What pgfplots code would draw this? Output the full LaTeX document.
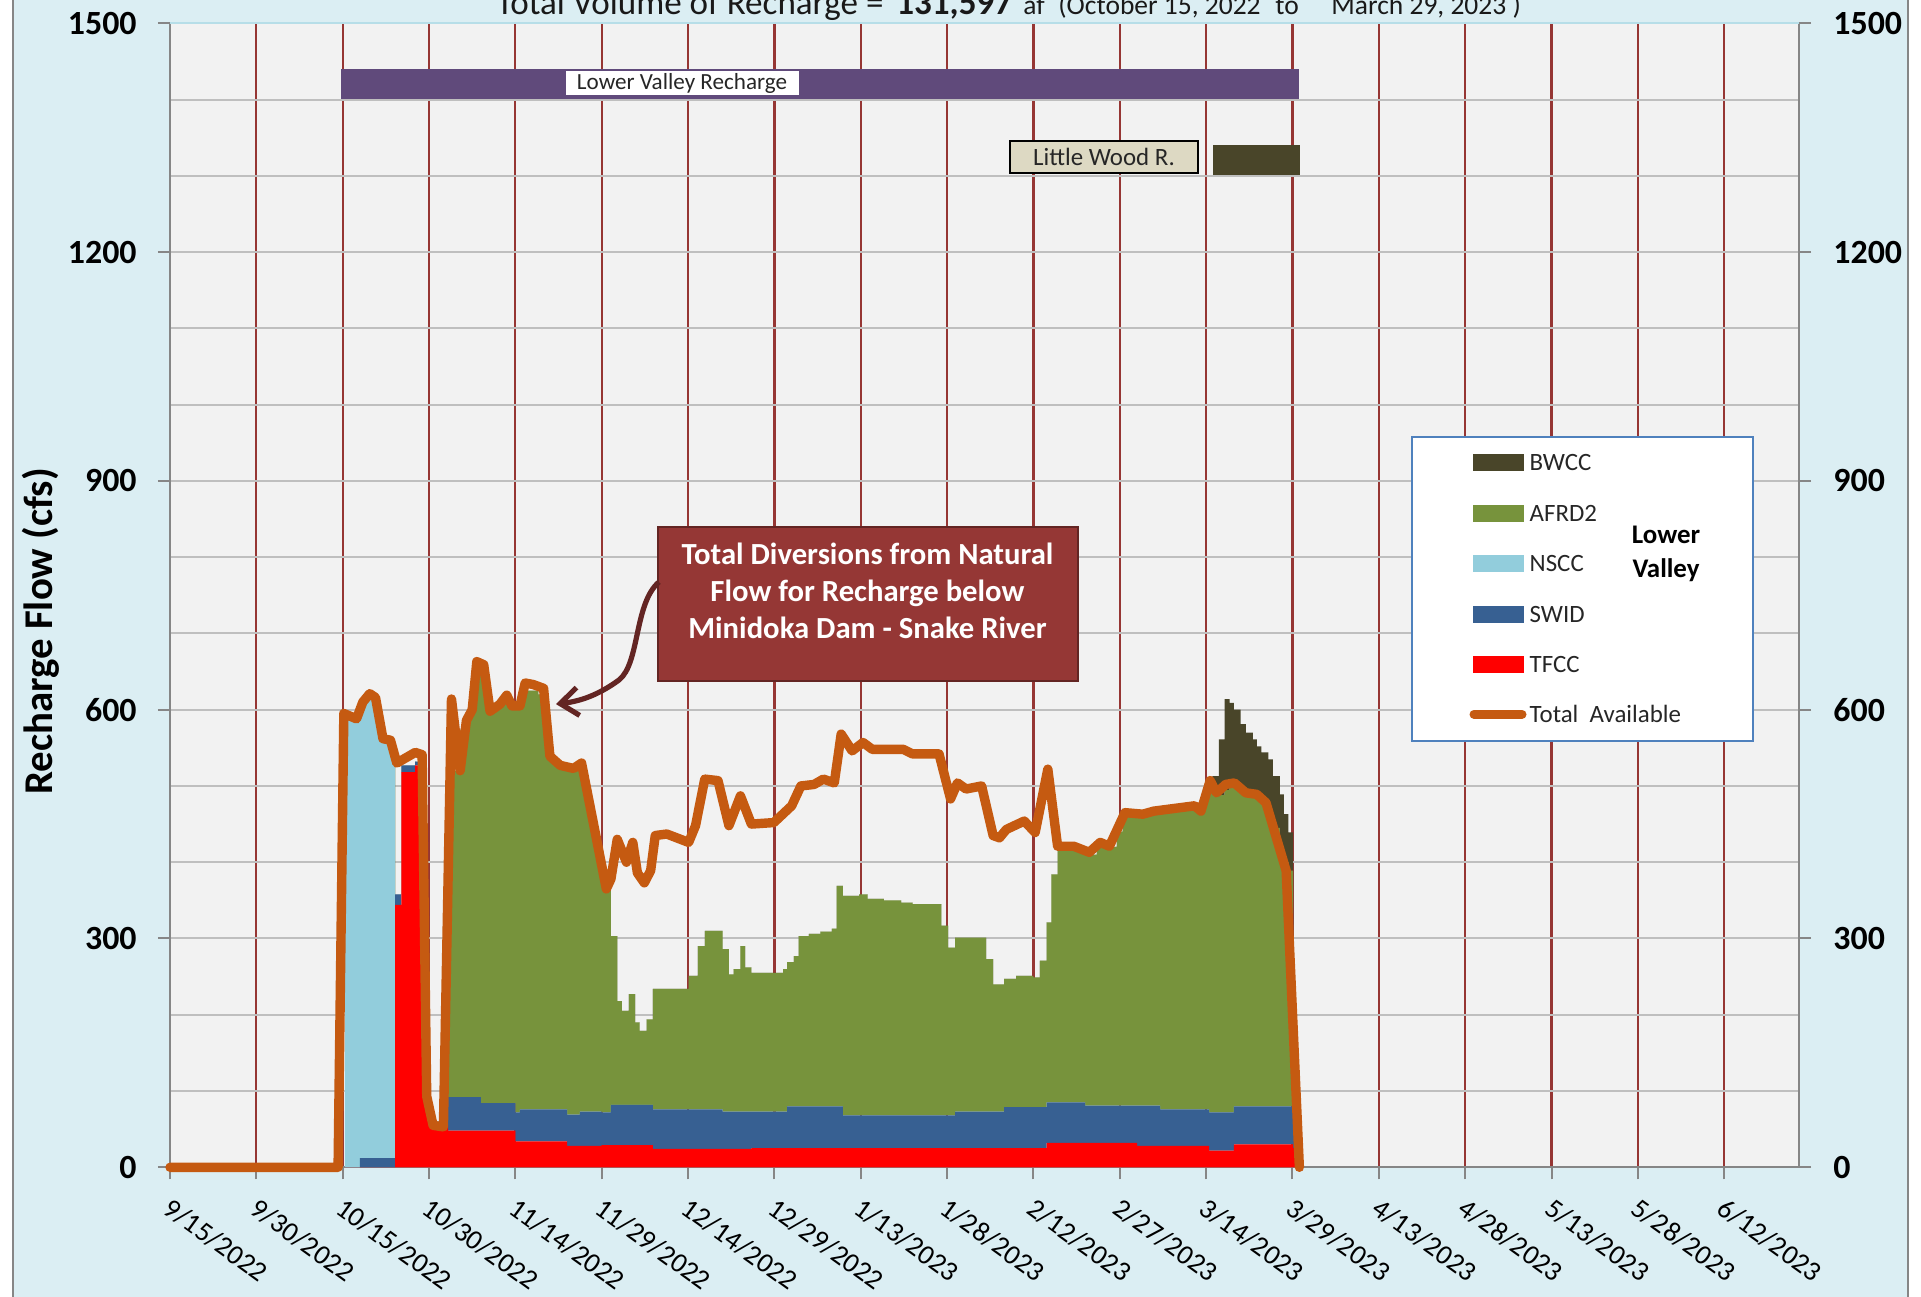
\documentclass[border=0pt]{standalone}
\usepackage{fontspec}
\setmainfont{Carlito}
\usepackage{pgfplots}
\pgfplotsset{compat=1.18}
\usepackage{pgfplotstable}
\usetikzlibrary{arrows.meta}

\definecolor{bgblue}{RGB}{219,238,243}
\definecolor{plotbg}{RGB}{242,242,242}
\definecolor{gridgray}{RGB}{191,191,191}
\definecolor{gridred}{RGB}{150,54,52}
\definecolor{axisgray}{RGB}{134,134,134}
\definecolor{tfcc}{RGB}{255,0,0}
\definecolor{swid}{RGB}{55,96,146}
\definecolor{nscc}{RGB}{146,205,220}
\definecolor{afrd}{RGB}{119,147,60}
\definecolor{bwcc}{RGB}{73,69,41}
\definecolor{total}{RGB}{197,90,17}
\definecolor{lvpurple}{RGB}{96,74,123}
\definecolor{annofill}{RGB}{149,55,53}
\definecolor{annodark}{RGB}{99,37,35}
\definecolor{beige}{RGB}{221,217,195}
\definecolor{legblue}{RGB}{79,129,189}
\definecolor{topblue}{RGB}{183,222,232}

% day = days since 9/15/2022; values in cfs per district
\pgfplotstableread{
d     tfcc swid nscc afrd bwcc
30.4  0    0    595  0    0
31.4  0    0    590  0    0
32.4  0    0    588  0    0
33.0  0    12   593  0    0
34.0  0    12   608  0    0
35.0  0    12   606  0    0
36.0  0    12   573  0    0
37.0  0    12   551  0    0
38.0  0    12   543  0    0
38.6  0    12   523  0    0
39.1  344  14   0    0    0
40.2  518  9    0    0    0
42.6  527  5    0    0    0
43.8  450  0    0    0    0
44.3  150  0    0    0    0
44.8  60   2    0    0    0
45.2  55   5    0    0    0
48.3  48   44   0    428  0
50.5  48   44   0    483  0
51.5  48   44   0    498  0
52.5  48   44   0    548  0
53.5  48   44   0    558  0
54.0  48   36   0    556  0
55.0  48   36   0    516  0
57.0  48   36   0    521  0
58.0  48   36   0    528  0
59.0  48   36   0    519  0
60.0  34   38   0    531  0
60.8  34   42   0    529  0
61.5  34   42   0    549  0
64.0  34   42   0    544  0
65.2  34   42   0    469  0
66.0  34   42   0    454  0
67.5  34   42   0    449  0
69.0  28   41   0    453  0
70.5  28   41   0    456  0
71.2  28   45   0    447  0
72.0  28   45   0    417  0
73.0  28   45   0    377  0
74.0  28   45   0    337  0
75.0  29   43   0    297  0
76.6  29   53   0    221  0
77.7  29   53   0    136  0
78.5  29   53   0    123  0
79.7  29   53   0    145  0
80.8  29   53   0    108  0
81.6  29   53   0    97   0
82.8  29   53   0    112  0
83.9  24   52   0    158  0
90.1  24   52   0    175  0
91.7  24   52   0    214  0
92.9  24   52   0    234  0
96.0  24   49   0    213  0
97.1  24   49   0    180  0
97.9  24   49   0    187  0
99.1  24   49   0    217  0
99.9  24   49   0    189  0
101.0 25   48   0    182  0
106.5 25   48   0    187  0
107.2 25   55   0    189  0
108.4 25   55   0    197  0
109.2 25   55   0    223  0
111.0 25   55   0    226  0
113.0 25   55   0    229  0
115.0 25   55   0    233  0
115.8 25   55   0    289  0
116.9 25   43   0    288  0
119.7 25   43   0    290  0
121.2 25   43   0    284  0
124.0 25   43   0    282  0
127.0 25   43   0    279  0
129.0 25   43   0    277  0
134.0 25   43   0    249  0
135.2 25   43   0    220  0
136.4 25   48   0    228  0
141.8 25   48   0    200  0
143.0 25   48   0    167  0
144.9 25   54   0    168  0
147.0 25   54   0    172  0
150.0 25   54   0    170  0
151.1 25   54   0    192  0
152.3 32   53   0    236  0
153.1 32   53   0    299  0
154.2 32   53   0    330  0
156.0 32   53   0    333  0
158.0 32   53   0    327  0
159.0 32   49   0    329  0
161.0 32   49   0    339  0
164.5 32   49   0    359  0
165.5 32   49   0    379  0
168.0 28   53   0    379  0
170.0 28   53   0    382  0
172.0 28   48   0    389  0
175.0 28   48   0    391  0
178.0 28   48   0    394  0
179.5 28   48   0    409  0
180.5 22   50   0    423  0
181.1 22   50   0    418  23
182.2 22   50   0    416  73
183.2 22   50   0    423  119
184.1 22   50   0    426  111
184.8 30   50   0    420  100
186.0 30   50   0    416  85
186.9 30   50   0    410  80
188.1 30   50   0    408  73
188.8 30   50   0    405  67
189.6 30   50   0    400  64
190.8 30   50   0    385  70
191.6 30   50   0    365  68
192.8 30   50   0    340  69
193.5 30   50   0    320  63
194.3 30   50   0    309  50
195.1 25   45   0    0    0
195.6 0    0    0    0    0
196.0 0    0    0    0    0
}\recharge

\begin{document}
\begin{tikzpicture}
\fill[white] (-85bp,-64.85bp) rectangle (875.5bp,583.65bp);
\fill[bgblue] (-78.5bp,-64.85bp) rectangle (869bp,583.65bp);
\draw[axisgray, line width=1.2bp] (-78.5bp,-64.85bp) -- (-78.5bp,583.65bp);
\draw[axisgray, line width=1.2bp] (869bp,-64.85bp) -- (869bp,583.65bp);

\begin{axis}[
  at={(0,0)}, anchor=south west,
  scale only axis, width=814.5bp, height=572bp,
  xmin=0, xmax=283, ymin=0, ymax=1500,
  axis background/.style={fill=plotbg},
  axis x line*=bottom, axis y line*=left,
  axis line style={axisgray, line width=1.1bp, -},
  xtick={0,15,...,270},
  xticklabels={9/15/2022,9/30/2022,10/15/2022,10/30/2022,11/14/2022,11/29/2022,12/14/2022,12/29/2022,1/13/2023,1/28/2023,2/12/2023,2/27/2023,3/14/2023,3/29/2023,4/13/2023,4/28/2023,5/13/2023,5/28/2023,6/12/2023},
  ytick={0,300,...,1500}, yticklabels={0,300,600,900,1200,1500},
  minor ytick={100,200,400,500,700,800,1000,1100,1300,1400},
  xmajorgrids, ymajorgrids, yminorgrids,
  x grid style={gridred, line width=1.1bp},
  y grid style={gridgray, line width=1bp},
  tick align=outside, major tick length=6bp, minor tick length=0pt,
  tick style={axisgray, line width=1bp},
  yticklabel style={font=\fontsize{17}{20}\selectfont\bfseries, anchor=east, inner sep=0pt, xshift=-10.5bp},
  xticklabel style={yshift=-8.3bp, xshift=1.5bp, font=\fontsize{14}{16}\selectfont, rotate=-36, anchor=north west, inner sep=0pt},
  stack plots=y,
  clip=false,
]
\addplot[const plot mark left, fill=tfcc, draw=none] table[x=d,y=tfcc]{\recharge} \closedcycle;
\addplot[const plot mark left, fill=swid, draw=none] table[x=d,y=swid]{\recharge} \closedcycle;
\addplot[const plot mark left, fill=nscc, draw=none] table[x=d,y=nscc]{\recharge} \closedcycle;
\addplot[const plot mark left, fill=afrd, draw=none] table[x=d,y=afrd]{\recharge} \closedcycle;
\addplot[const plot mark left, fill=bwcc, draw=none] table[x=d,y=bwcc]{\recharge} \closedcycle;
\end{axis}

\begin{axis}[
  at={(0,0)}, anchor=south west,
  scale only axis, width=814.5bp, height=572bp,
  xmin=0, xmax=283, ymin=0, ymax=1500,
  axis x line=none, axis y line*=right,
  axis line style={axisgray, line width=1.1bp, -},
  ytick={0,300,...,1500}, yticklabels={0,300,600,900,1200,1500},
  tick align=outside, major tick length=6bp,
  tick style={axisgray, line width=1bp},
  yticklabel style={font=\fontsize{17}{20}\selectfont\bfseries, anchor=west, inner sep=0pt, xshift=11bp},
  clip=false,
]
\addplot[total, line width=4.7bp, line join=round, line cap=round] coordinates {
(0,0) (29.2,0) (30.2,595) (32.4,588) (33.5,610) (34.7,621) (35.7,616) (37,562) (38.3,560)
(39.4,530) (41,537) (42.6,544) (43.8,541) (44.6,93) (45.7,55) (47.5,53) (48.9,614) (50.4,520)
(51.5,586) (52.5,600) (53.3,663) (54.5,659) (55.6,598) (57.3,607) (58.5,619) (59.4,605)
(60.8,605) (61.7,635) (63.1,633) (64.9,628) (66,539) (67.8,527) (70.1,523) (71.5,530)
(75.8,365) (76.6,378) (77.7,430) (79.3,400) (80.4,426) (81.2,386) (82.4,373) (83.5,389)
(84.3,435) (86.3,437) (90.1,426) (91.3,448) (92.9,509) (95.2,507) (97.1,448) (99.1,487)
(101,450) (104.9,452) (108,474) (109.6,500) (111.9,502) (113.5,509) (115.4,504) (116.6,568)
(118.5,546) (120.4,557) (122,548) (127.4,548) (129,542) (133.6,542) (135.6,483) (136.8,504)
(138.3,496) (141,500) (143,435) (144.1,432) (145.3,443) (148.4,454) (150.3,439) (152.5,522)
(154.2,421) (157,421) (159.7,413) (161.6,426) (163.2,421) (165.9,465) (169,463) (170.9,467)
(178,474) (179.1,467) (180.7,507) (181.8,491) (183.4,502) (184.9,504) (186.9,491) (188.8,489)
(190.4,478) (193.9,389) (196.2,0)
};
\end{axis}

% top edge of plot area
\draw[topblue, line width=1.2bp] (0,572bp) -- (814.5bp,572bp);

% title (cut by the top of the picture)
\node[anchor=base west, inner sep=0pt, font=\fontsize{17.6}{20}\selectfont, text=black!90] at (163bp,576.2bp) {Total Volume of Recharge =};
\node[anchor=base west, inner sep=0pt, font=\fontsize{17.6}{20}\selectfont\bfseries, text=black!90] at (363bp,576.2bp) {131,597};
\node[anchor=base west, inner sep=0pt, font=\fontsize{13.8}{16}\selectfont, text=black!90] at (426.5bp,576.2bp) {af};
\node[anchor=base west, inner sep=0pt, font=\fontsize{13.8}{16}\selectfont, text=black!90] at (444bp,576.2bp) {(October 15, 2022};
\node[anchor=base west, inner sep=0pt, font=\fontsize{13.8}{16}\selectfont, text=black!90] at (552.5bp,576.2bp) {to};
\node[anchor=base west, inner sep=0pt, font=\fontsize{13.8}{16}\selectfont, text=black!90] at (580.5bp,576.2bp) {March 29, 2023 )};

% y label
\node[rotate=90, font=\fontsize{20.5}{23}\selectfont\bfseries] at (-64.5bp,268bp) {Recharge Flow (cfs)};

% Lower Valley Recharge bar
\fill[lvpurple] (85.5bp,533.9bp) rectangle (564.4bp,549.1bp);
\node[fill=white, inner sep=0pt, minimum width=116.5bp, minimum height=12bp, font=\fontsize{11.6}{13}\selectfont, text=black!85] at (256bp,542.15bp) {Lower Valley Recharge};

% Little Wood R.
\node[fill=beige, draw=black, line width=1bp, inner sep=0pt, minimum width=94bp, minimum height=16bp, font=\fontsize{12.5}{14}\selectfont, text=black!85] at (467bp,505.3bp) {Little Wood R.};
\fill[bwcc] (521.5bp,496.15bp) rectangle (565bp,511.15bp);

% annotation box
\draw[annodark, line width=1bp, fill=annofill] (244bp,243.15bp) rectangle (454bp,320.15bp);
\node[anchor=base, inner sep=0pt, text=white, font=\fontsize{15.4}{17}\selectfont\bfseries] at (348.75bp,301.15bp) {Total Diversions from Natural};
\node[anchor=base, inner sep=0pt, text=white, font=\fontsize{15.4}{17}\selectfont\bfseries] at (348.75bp,282.8bp) {Flow for Recharge below};
\node[anchor=base, inner sep=0pt, text=white, font=\fontsize{15.4}{17}\selectfont\bfseries] at (348.75bp,264.5bp) {Minidoka Dam - Snake River};
\draw[annodark, line width=2.6bp, -{Straight Barb[length=9bp,width=14bp]}] (244.5bp,292.65bp) .. controls (232bp,282bp) and (235bp,252bp) .. (224.5bp,243.65bp) .. controls (214bp,236bp) and (205bp,233bp) .. (193bp,231.6bp);

% legend
\draw[legblue, line width=1bp, fill=white] (620.85bp,213.3bp) rectangle (791.35bp,365.3bp);
\fill[bwcc] (651.35bp,348.05bp) rectangle (677bp,356.55bp);
\fill[afrd] (651.35bp,322.75bp) rectangle (677bp,331.25bp);
\fill[nscc] (651.35bp,297.4bp) rectangle (677bp,305.9bp);
\fill[swid] (651.35bp,272.25bp) rectangle (677bp,280.75bp);
\fill[tfcc] (651.35bp,246.9bp) rectangle (677bp,255.4bp);
\draw[total, line width=4.5bp, line cap=round] (652bp,226.5bp) -- (676bp,226.5bp);
\node[anchor=west, inner sep=0pt, font=\fontsize{12.5}{14}\selectfont, text=black!85] at (679.65bp,352.3bp) {BWCC};
\node[anchor=west, inner sep=0pt, font=\fontsize{12.5}{14}\selectfont, text=black!85] at (679.65bp,327bp) {AFRD2};
\node[anchor=west, inner sep=0pt, font=\fontsize{12.5}{14}\selectfont, text=black!85] at (679.65bp,301.65bp) {NSCC};
\node[anchor=west, inner sep=0pt, font=\fontsize{12.5}{14}\selectfont, text=black!85] at (679.65bp,276.5bp) {SWID};
\node[anchor=west, inner sep=0pt, font=\fontsize{12.5}{14}\selectfont, text=black!85] at (679.65bp,251.15bp) {TFCC};
\node[anchor=west, inner sep=0pt, font=\fontsize{12.5}{14}\selectfont, text=black!85] at (679.65bp,226.5bp) {Total\ \ Available};
\node[anchor=base, inner sep=0pt, font=\fontsize{13.5}{15}\selectfont\bfseries] at (748bp,311.65bp) {Lower};
\node[anchor=base, inner sep=0pt, font=\fontsize{13.5}{15}\selectfont\bfseries] at (748bp,295bp) {Valley};

\pgfresetboundingbox
\useasboundingbox (-85bp,-64.85bp) rectangle (875.5bp,583.65bp);
\end{tikzpicture}
\end{document}
